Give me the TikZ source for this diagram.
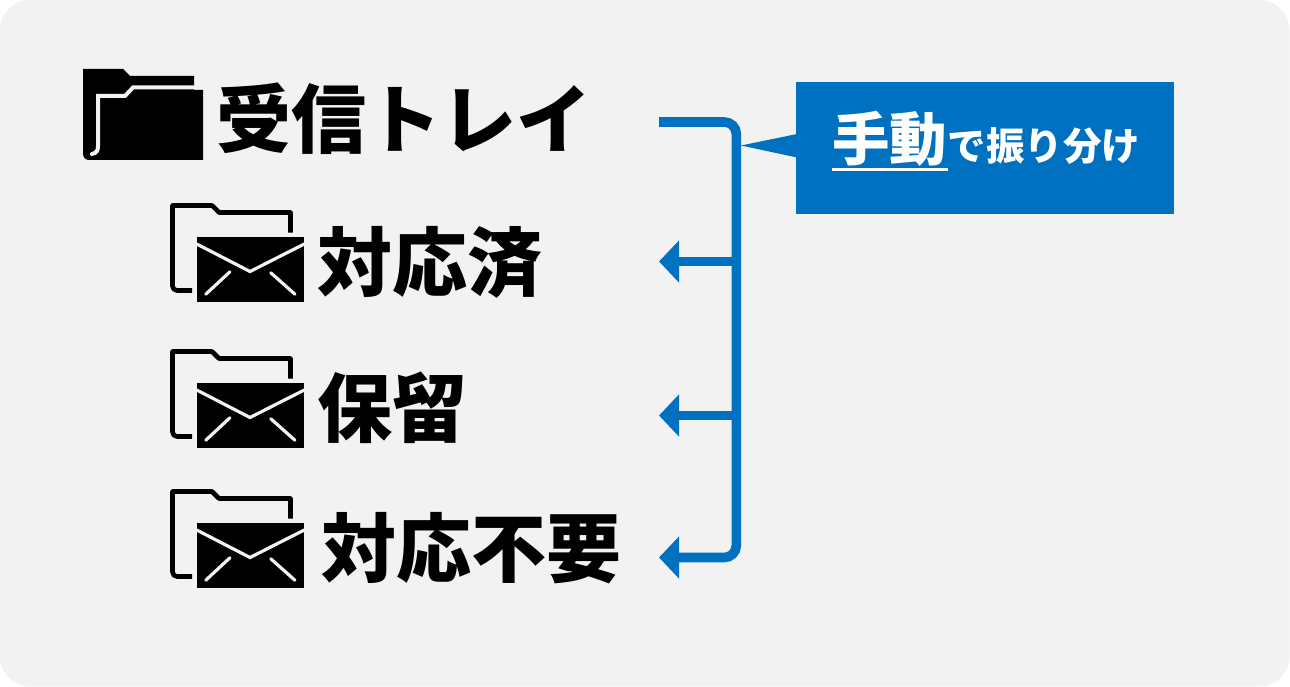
\documentclass[tikz,border=0pt]{standalone}
\usepackage{fontspec}
\setmainfont{Noto Sans CJK JP}
\usetikzlibrary{arrows.meta}

\definecolor{panelgray}{HTML}{F2F2F2}
\definecolor{sortblue}{HTML}{0070C0}

\tikzset{
    x=1pt, y=-1pt,
    biglabel/.style={anchor=base west, inner sep=0pt, font=\fontsize{75}{80}\selectfont\bfseries},
    sortline/.style={draw=sortblue, line width=9.6pt, rounded corners=12pt},
    sortarrow/.style={sortline, -{Triangle[length=20pt, width=41pt]}},
    mailfolder/.pic={
        % Folder outline
        \draw[line width=4.6pt, line join=round] (22,87.5) -- (7,87.5) arc (90:180:4.5) -- (2.5,2.5) -- (42,2.5) -- (49,9.5) -- (120.5,9.5) -- (120.5,29.5);
        % Envelope
        \fill (26.7,33.7) rectangle (134.3,98.7);
        \draw[panelgray, line width=3.2pt] (26.7,41) -- (80,68.5) -- (134.3,41);
        \draw[panelgray, line width=3.2pt, line cap=round] (35.7,91.3) -- (60,68.7);
        \draw[panelgray, line width=3.2pt, line cap=round] (100.7,69.7) -- (125,91.3);
    }
}

\begin{document}
\begin{tikzpicture}
    \useasboundingbox (0,0) rectangle (1290,687);
    % Background panel
    \fill[panelgray, rounded corners=30pt] (0,0) rectangle (1289.5,686.5);

    % Inbox folder
    \fill (83,69) -- (123,69) -- (130,76) -- (194,76) -- (194,90) -- (203,90) -- (203,160) -- (89,160) arc (90:180:6) -- cycle;
    \draw[panelgray, line width=4pt, line cap=round] (92,154) .. controls (97,153) and (98,150) .. (98,146) -- (98,96) -- (125,96) -- (133,87.5) -- (194,87.5);
    \fill[panelgray] (194.5,76) rectangle (204,89.5);

    % Labels
    \node[biglabel] (inbox) at (216,147.5) {受信トレイ};
    \node[biglabel] (done) at (317,290) {対応済};
    \node[biglabel] (hold) at (317,436) {保留};
    \node[biglabel] (skip) at (321,576) {対応不要};

    % Mail folders
    \pic at (170,203) {mailfolder};
    \pic at (170,349) {mailfolder};
    \pic at (170,489) {mailfolder};

    % Connector ends
    \coordinate (start) at (659,122);
    \coordinate (topturn) at (736.3,122);
    \coordinate (bottomturn) at (736.3,557.5);
    \coordinate (donejoin) at (736.3,261.5);
    \coordinate (holdjoin) at (736.3,415.5);
    \coordinate (donetip) at (659,261.5);
    \coordinate (holdtip) at (659,415.5);
    \coordinate (skiptip) at (659,557.5);

    % Sorting lines
    \draw[sortarrow] (start) -- (topturn) -- (bottomturn) -- (skiptip);
    \draw[sortarrow] (donejoin) -- (donetip);
    \draw[sortarrow] (holdjoin) -- (holdtip);

    % Callout box
    \node[fill=sortblue, minimum width=378pt, minimum height=132pt, inner sep=0pt] (callout) at (985,148) {};
    \coordinate (pointer) at (741,145.5);
    \fill[sortblue] (pointer) -- (797,134) -- (797,157.5) -- cycle;

    % Callout text
    \node[anchor=base west, inner sep=0pt, text=white, font=\fontsize{57.5}{60}\selectfont\bfseries] (manual) at (832,161) {手動};
    \node[anchor=base west, inner sep=0pt, text=white, font=\fontsize{38.5}{40}\selectfont\bfseries] (rest) at (manual.base east) {で振り分け};
    \coordinate (lineleft) at (832,169.5);
    \coordinate (lineright) at (948,169.5);
    \draw[white, line width=3.2pt] (lineleft) -- (lineright);
\end{tikzpicture}
\end{document}
